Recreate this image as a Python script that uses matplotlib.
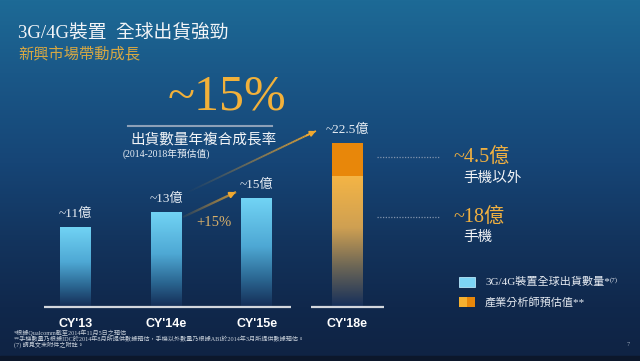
import numpy as np
import matplotlib.pyplot as plt
from matplotlib.colors import to_rgb
from matplotlib.collections import LineCollection
from matplotlib.lines import Line2D
from matplotlib.patches import Rectangle

# data (units: 100M devices, "億")
categories = ["CY'13", "CY'14e", "CY'15e", "CY'18e"]
blue_values = [11, 13, 15]        # 3G/4G device shipments
handset_18 = 18                   # analyst estimate, handsets
other_18 = 4.5                    # analyst estimate, non-handset
totals = [11, 13, 15, 22.5]
value_labels = ["~11億", "~13億", "~15億", "~22.5億"]
base_spans = [(-0.35, 2.38), (2.6, 3.4)]

SERIF = ['Liberation Serif', 'Noto Sans CJK TC']
W, H = 640, 361


def fx(px):
    return px / W


def fy(py):
    return 1 - py / H


def vgrad(stops, n=256):
    t = np.linspace(0, 1, n)
    pos = [p for p, _ in stops]
    cols = np.array([to_rgb(c) for _, c in stops])
    return np.stack([np.interp(t, pos, cols[:, k]) for k in range(3)], axis=-1)[:, None, :]


def grad_bar(ax, bar, stops):
    x0, y0 = bar.get_x(), bar.get_y()
    w, h = bar.get_width(), bar.get_height()
    im = ax.imshow(vgrad(stops), aspect='auto',
                   extent=[x0, x0 + w, y0, y0 + h], zorder=2)
    im.set_clip_path(bar)
    bar.set_facecolor('none')


def fade_arrow(ax, p0, p1, color, lw, a0=0.0):
    n = 80
    xs = np.linspace(p0[0], p1[0], n + 1)
    ys = np.linspace(p0[1], p1[1], n + 1)
    segs = np.stack([np.column_stack([xs[:-1], ys[:-1]]),
                     np.column_stack([xs[1:], ys[1:]])], axis=1)
    rgb = to_rgb(color)
    alphas = np.linspace(a0, 1, n) ** 1.3
    ax.add_collection(LineCollection(segs, colors=[(*rgb, a) for a in alphas],
                                     linewidths=lw, zorder=4))
    mid = (p0[0] + 0.93 * (p1[0] - p0[0]), p0[1] + 0.93 * (p1[1] - p0[1]))
    ax.annotate('', xy=p1, xytext=mid, zorder=4,
                arrowprops=dict(arrowstyle='-|>', color=color, lw=lw,
                                mutation_scale=8, shrinkA=0, shrinkB=0))


fig = plt.figure(figsize=(6.4, 3.61), dpi=100)

# background
bg = fig.add_axes([0, 0, 1, 1], zorder=0)
bg_stops = [(0, '#1d6a96'), (0.2, '#1a5888'), (0.45, '#164576'),
            (0.65, '#13355f'), (0.85, '#10284c'), (1, '#0f2343')]
bg.imshow(vgrad(bg_stops, H), aspect='auto', extent=[0, 1, 0, 1])
bg.add_patch(Rectangle((0, 0), 1, 5 / H, color='#0c172b'))
bg.set_xlim(0, 1)
bg.set_ylim(0, 1)
bg.axis('off')

# chart axes
ax = fig.add_axes([fx(30.2), fy(306.5), 362.6 / W, 217.5 / H], zorder=1)
ax.patch.set_alpha(0)
for s in ax.spines.values():
    s.set_visible(False)

blue_stops = [(0, '#72d4f5'), (0.45, '#4ea8d4'), (0.75, '#2b6792'), (1, '#152f58')]
orange_stops = [(0, '#f5b545'), (0.4, '#cfa052'), (0.7, '#6c6656'), (1, '#17305a')]

bars = ax.bar(range(3), blue_values, width=0.34, linewidth=0)
for b in bars:
    grad_bar(ax, b, blue_stops)
low = ax.bar(3, handset_18, width=0.34, linewidth=0)[0]
grad_bar(ax, low, orange_stops)
ax.bar(3, other_18, bottom=handset_18, width=0.34, color='#e8870a',
       linewidth=0, zorder=2)

for x0, x1 in base_spans:
    ax.hlines(0, x0, x1, color='#d3d7dd', lw=1.6, zorder=3, clip_on=False)

for i, (v, lbl) in enumerate(zip(totals, value_labels)):
    ax.annotate(lbl, (i, v), xytext=(0, 9.5), textcoords='offset points',
                ha='center', va='center', fontsize=9.5, color='#e8eef5',
                family=SERIF)

fade_arrow(ax, (1.186, 12.34), (1.770, 15.79), '#f0a830', 1.6, a0=0.15)
fade_arrow(ax, (1.175, 15.38), (2.652, 24.21), '#f0a830', 1.3, a0=0.0)

ax.set_xlim(-0.5, 3.5)
ax.set_ylim(0, 30)
ax.set_yticks([])
ax.set_xticks(range(4), categories, fontfamily='Liberation Sans',
              fontweight='bold', fontsize=9, color='white')
ax.tick_params(axis='x', length=0, pad=8)

# titles and annotations
fig.text(fx(18), fy(33), '3G/4G裝置  全球出貨強勁', fontsize=13.5,
         color='#f2f4f7', family=SERIF, va='center')
fig.text(fx(18), fy(55), '新興市場帶動成長', fontsize=11,
         color='#d6a844', family=SERIF, va='center')
fig.text(fx(227), fy(97), '~15%', fontsize=36, color='#f2b13a',
         family=SERIF, ha='center', va='center')
fig.add_artist(Line2D([fx(128), fx(272)], [fy(126), fy(126)],
                      color='#8da0b8', lw=1.5))
fig.text(fx(204), fy(139), '出貨數量年複合成長率', fontsize=10.5,
         color='#f2f4f7', family=SERIF, ha='center', va='center')
fig.text(fx(123), fy(154), '(2014-2018年預估值)', fontsize=7,
         color='#e8eef5', family=SERIF, va='center')
fig.text(fx(214), fy(222), '+15%', fontsize=10.5, color='#d8b06a',
         family=SERIF, ha='center', va='center')

# right side callouts
for y in (157, 217):
    fig.add_artist(Line2D([fx(377), fx(440)], [fy(y), fy(y)],
                          color='#8093ad', lw=0.9, ls=(0, (1, 1.2))))
fig.text(fx(453), fy(157), '~4.5億', fontsize=14.5, color='#f0b040',
         family=SERIF, va='center')
fig.text(fx(463), fy(178), '手機以外', fontsize=10.5, color='#f2f4f7',
         family=SERIF, va='center')
fig.text(fx(453), fy(217), '~18億', fontsize=14.5, color='#f0b040',
         family=SERIF, va='center')
fig.text(fx(463), fy(237), '手機', fontsize=10.5, color='#f2f4f7',
         family=SERIF, va='center')

# legend
fig.add_artist(Rectangle((fx(459), fy(287)), 16 / W, 10 / H,
                         facecolor='#7dd5f5', edgecolor='#b8e8fa', lw=0.6))
fig.add_artist(Rectangle((fx(459), fy(307)), 8 / W, 10 / H,
                         facecolor='#f5b030', edgecolor='none'))
fig.add_artist(Rectangle((fx(467), fy(307)), 8 / W, 10 / H,
                         facecolor='#e8870a', edgecolor='none'))
leg1 = fig.text(fx(485), fy(282), '3G/4G裝置全球出貨數量*', fontsize=8,
                color='#e6ebf2', family=SERIF, va='center')
fig.text(fx(485), fy(302), '產業分析師預估值**', fontsize=8,
         color='#e6ebf2', family=SERIF, va='center')
ax.annotate('(7)', xy=(1.0, 0.95), xycoords=leg1, fontsize=5,
            color='#e6ebf2', family=SERIF, va='top', ha='left',
            annotation_clip=False)

# footnotes
notes = ['*根據Qualcomm截至2014年11月5日之預估',
         '**手機數量乃根據IDC於2014年8月所提供數據預估，手機以外數量乃根據ABI於2014年3月所提供數據預估。',
         '(7) 請見文末附件之附註。']
for k, note in enumerate(notes):
    fig.text(fx(14), fy(333 + 6 * k), note, fontsize=4.4,
             color='#c8d0da', family=SERIF, va='center')
fig.text(fx(627), fy(345), '7', fontsize=4.5, color='#9aa8ba',
         family=SERIF, va='center')

fig.savefig('out.png', dpi=100)
